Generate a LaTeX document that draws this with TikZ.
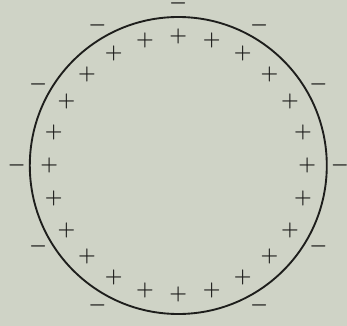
\documentclass[tikz,border=0pt]{standalone}
\usepackage{tikz}
\usetikzlibrary{positioning,calc}
\definecolor{paper}{RGB}{207,211,198}
\definecolor{ink}{RGB}{30,30,28}

\begin{document}
\begin{tikzpicture}[
    sign/.style={inner sep=0pt, text=ink, font=\fontsize{17}{17}\selectfont\boldmath},
    plussign/.style={sign},
    minussign/.style={sign},
    sphere/.style={draw=ink, line width=1.6pt}
  ]
    % Background and frame
    \fill[paper] (-5.349,-4.815) rectangle (5.061,4.965);
    \useasboundingbox (-5.349,-4.815) rectangle (5.061,4.965);

    % Sphere
    \node[sphere, circle, minimum size=8.91cm, inner sep=0pt] (ball) at (0,0) {};

    % Positive charges inside
    \foreach \a in {0,15,...,345}
      \node[plussign] (plus-\a) at (\a:3.87) {$+$};

    % Negative charges outside
    \foreach \a in {0,30,60,90,120,150,180,210,240,300,330}
      \node[minussign] (minus-\a) at (\a:4.85) {$-$};
  \end{tikzpicture}
\end{document}
